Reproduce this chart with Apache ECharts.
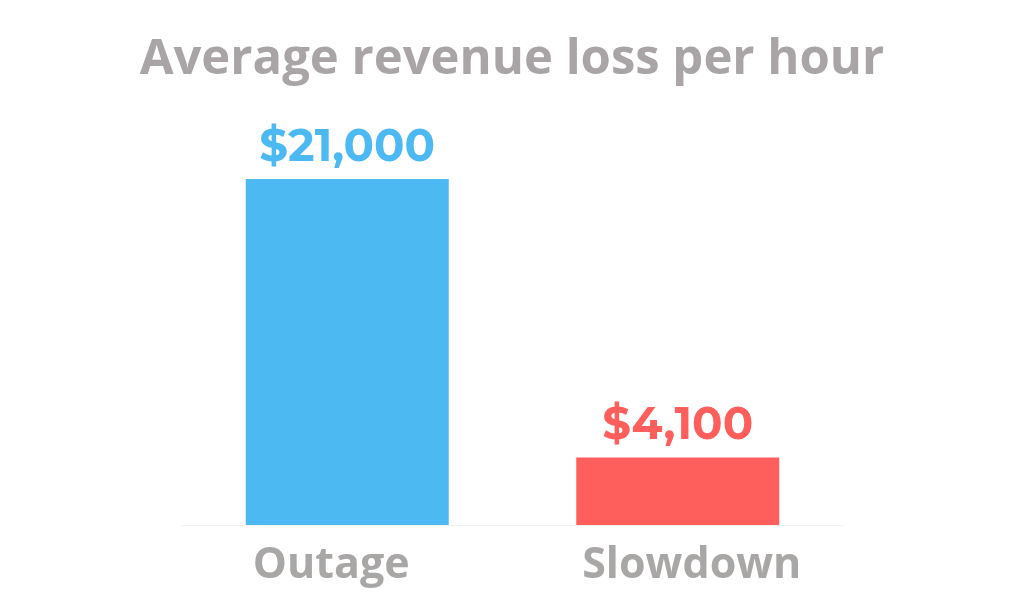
<!DOCTYPE html>
<html><head><meta charset="utf-8">
<script src="https://cdn.jsdelivr.net/npm/echarts@6/dist/echarts.min.js"></script>
<style>html,body{margin:0;padding:0;background:#fff;}#c{width:1024px;height:609px;}</style>
</head><body><div id="c"></div>
<script>
const categories = ['Outage', 'Slowdown'];
const values = [21000, 4100];
const valueLabels = ['$21,000', '$4,100'];
const barColors = ['#4db9f3', '#fe5f5c'];

const chart = echarts.init(document.getElementById('c'), null, {renderer: 'canvas'});
chart.setOption({
  backgroundColor: '#ffffff',
  animation: false,
  title: {
    text: 'Average revenue loss per hour',
    left: 'center',
    top: 31,
    textStyle: {fontFamily: 'Open Sans', fontWeight: 'bold', fontSize: 49, color: '#a9a5a6'}
  },
  grid: {left: 182, right: 181, top: 179, bottom: 84, containLabel: false},
  xAxis: {
    type: 'category',
    data: categories,
    axisTick: {show: false},
    axisLine: {lineStyle: {color: '#f1f1f1', width: 1}},
    axisLabel: {
      interval: 0,
      hideOverlap: false,
      fontFamily: 'Open Sans', fontWeight: 'bold', fontSize: 43, color: '#a9a6a6', margin: 19,
      formatter: (v) => v === 'Outage' ? '{a|' + v + '}' : '{b|' + v + '}',
      rich: {
        a: {fontFamily: 'Open Sans', fontWeight: 'bold', fontSize: 43, color: '#a9a6a6', padding: [0, 32, 0, 0]},
        b: {fontFamily: 'Open Sans', fontWeight: 'bold', fontSize: 43, color: '#a9a6a6', padding: [0, 0, 0, 28]}
      }
    }
  },
  yAxis: {type: 'value', min: 0, max: 21000, show: false, splitLine: {show: false}},
  series: [{
    type: 'bar',
    barWidth: 203,
    data: values.map((v, i) => ({
      value: v,
      itemStyle: {color: barColors[i]},
      label: {
        show: true, position: 'top', distance: 9,
        formatter: valueLabels[i],
        fontFamily: 'Montserrat, Open Sans', fontWeight: 'bold', fontSize: 45, color: barColors[i]
      }
    }))
  }]
});
</script></body></html>
